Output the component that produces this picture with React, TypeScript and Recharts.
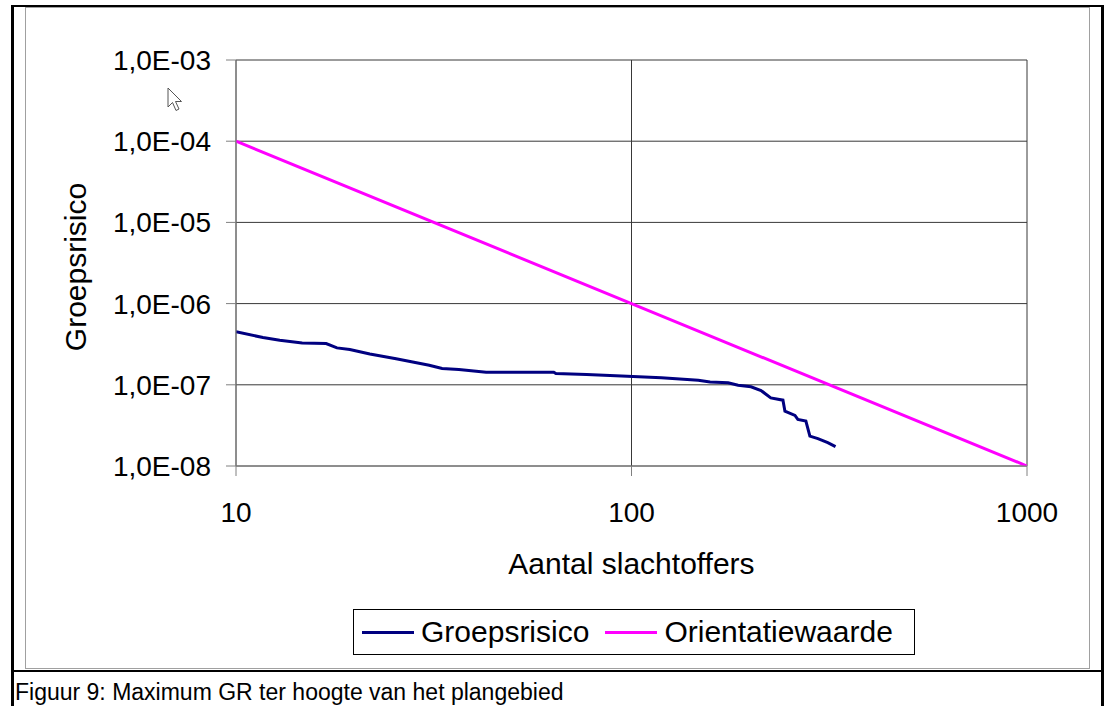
import React from "react";
import { LineChart, Line, XAxis, YAxis, CartesianGrid } from "recharts";

// Aantal slachtoffers (N) en groepsrisico
const groepN = [
  10, 11.7, 12.9, 14.7, 16.9, 18.0, 19.4, 21.8, 25.4, 30.8, 33.2, 36.6, 42.9, 63.6, 64.4, 77, 94.4,
  119, 147.5, 158, 175.5, 186, 200.5, 212.6, 225, 241.5, 244.3, 259, 263.4, 276, 282.5, 296, 313.5, 328,
];
const groepGR = [
  4.5e-7, 3.82e-7, 3.54e-7, 3.28e-7, 3.22e-7, 2.85e-7, 2.72e-7, 2.4e-7, 2.09e-7, 1.74e-7, 1.59e-7,
  1.54e-7, 1.43e-7, 1.43e-7, 1.38e-7, 1.34e-7, 1.28e-7, 1.22e-7, 1.14e-7, 1.08e-7, 1.06e-7, 9.9e-8,
  9.45e-8, 8.5e-8, 6.9e-8, 6.47e-8, 4.73e-8, 4.19e-8, 3.74e-8, 3.57e-8, 2.33e-8, 2.17e-8, 1.94e-8,
  1.73e-8,
];

const orientN = [10, 100, 1000];
const orientGR = [1e-4, 1e-6, 1e-8];

const xTicks = [10, 100, 1000];
const yTicks = [1e-8, 1e-7, 1e-6, 1e-5, 1e-4, 1e-3];

const series = [
  { name: "Groepsrisico", color: "#000080" },
  { name: "Orientatiewaarde", color: "#ff00ff" },
];

const groepData = groepN.map((n, i) => ({ n, gr: groepGR[i] }));
const orientData = orientN.map((n, i) => ({ n, gr: orientGR[i] }));

const font = "Arial, 'Liberation Sans', sans-serif";

const formatY = (v: number) => {
  const e = -Math.round(Math.log10(v));
  return `1,0E-${String(e).padStart(2, "0")}`;
};

const YLabel = ({ viewBox }: any) => {
  const cx = viewBox.x + 75;
  const cy = viewBox.y + viewBox.height / 2 + 4;
  return (
    <text
      x={cx}
      y={cy}
      transform={`rotate(-90 ${cx} ${cy})`}
      textAnchor="middle"
      dominantBaseline="central"
      fontSize={30}
      fontFamily={font}
      fill="#000"
    >
      Groepsrisico
    </text>
  );
};

export default function App() {
  return (
    <div style={{ position: "absolute", left: 0, top: 0, width: 1107, height: 706, background: "#fff", overflow: "hidden", fontFamily: font }}>
      {/* outer frame */}
      <div style={{ position: "absolute", left: 11, top: 5, width: 1087, height: 720, borderLeft: "3px solid #000", borderRight: "3px solid #000", borderTop: "2px solid #000" }} />
      <div style={{ position: "absolute", left: 11, top: 670, width: 1093, height: 2, background: "#000" }} />
      {/* chart area border */}
      <div style={{ position: "absolute", left: 25, top: 7, width: 1063, height: 660, border: "1px solid #a0a0a0" }} />

      <div style={{ position: "absolute", left: 0, top: 0 }}>
        <LineChart width={1107} height={706} margin={{ top: 60, right: 80, bottom: 180, left: 0 }}>
          <CartesianGrid stroke="#383838" strokeWidth={1} />
          <XAxis
            dataKey="n"
            type="number"
            scale="log"
            domain={[10, 1000]}
            ticks={xTicks}
            allowDataOverflow
            height={60}
            stroke="#808080"
            tickSize={10}
            tickMargin={26}
            tick={{ fontSize: 28, fill: "#000", fontFamily: font }}
            label={{ value: "Aantal slachtoffers", position: "bottom", offset: 27, fontSize: 30, fill: "#000", fontFamily: font }}
          />
          <YAxis
            type="number"
            scale="log"
            domain={[1e-8, 1e-3]}
            ticks={yTicks}
            allowDataOverflow
            width={236}
            stroke="#808080"
            tickSize={10}
            tickMargin={15}
            tickFormatter={formatY}
            tick={{ fontSize: 28, fill: "#000", fontFamily: font }}
            label={YLabel}
          />
          <Line
            data={groepData}
            dataKey="gr"
            name={series[0].name}
            stroke={series[0].color}
            strokeWidth={3}
            dot={false}
            type="linear"
            isAnimationActive={false}
          />
          <Line
            data={orientData}
            dataKey="gr"
            name={series[1].name}
            stroke={series[1].color}
            strokeWidth={3}
            dot={false}
            type="linear"
            isAnimationActive={false}
          />
        </LineChart>
      </div>

      {/* legend */}
      <div style={{ position: "absolute", left: 353, top: 609, width: 552, height: 44, border: "1px solid #000", background: "#fff", display: "flex", alignItems: "center", paddingLeft: 8, boxSizing: "content-box" }}>
        {series.map((s) => (
          <div key={s.name} style={{ display: "flex", alignItems: "center", marginRight: 16 }}>
            <div style={{ width: 52, height: 3, background: s.color, marginRight: 7 }} />
            <span style={{ fontSize: 30, color: "#000", lineHeight: "44px" }}>{s.name}</span>
          </div>
        ))}
      </div>

      {/* mouse pointer in the screenshot */}
      <svg style={{ position: "absolute", left: 167, top: 87 }} width={20} height={28}>
        <path d="M1,1 L1,20 L5.5,15.5 L9,23.5 L12,22 L8.5,14.5 L14.5,14.5 Z" fill="#fff" stroke="#555" strokeWidth={1} />
      </svg>

      {/* caption */}
      <div style={{ position: "absolute", left: 15, top: 679, fontSize: 23, color: "#000", whiteSpace: "nowrap" }}>
        Figuur 9: Maximum GR ter hoogte van het plangebied
      </div>
    </div>
  );
}
